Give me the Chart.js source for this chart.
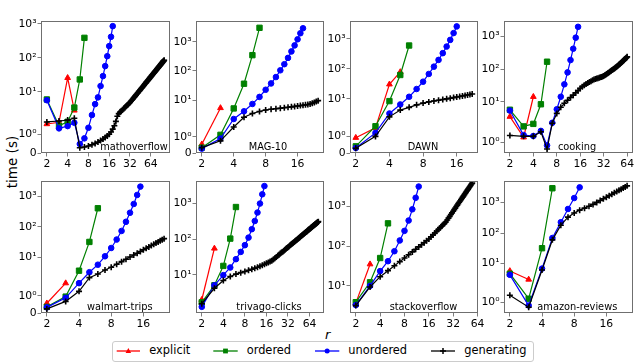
<!DOCTYPE html>
<html><head><meta charset="utf-8">
<script src="https://cdn.jsdelivr.net/npm/chart.js@4/dist/chart.umd.min.js"></script>
<style>
html,body{margin:0;padding:0;background:#fff;}
body{width:640px;height:363px;position:relative;overflow:hidden;font-family:'DejaVu Sans',sans-serif;}
canvas{position:absolute;}
.lbl{position:absolute;color:#000;white-space:nowrap;line-height:1;}
</style></head><body>
<div class="lbl" style="left:12.7px;top:161.5px;font-size:13.5px;transform:translate(-50%,-50%) rotate(-90deg);">time (s)</div>
<div class="lbl" style="left:327.7px;top:334px;font-size:13px;font-style:italic;transform:translate(-50%,-50%);">r</div>
<div style="position:absolute;left:112px;top:341px;width:420px;height:19px;border:1px solid #cccccc;border-radius:3px;background:#fff;"></div>
<svg id="leg" style="position:absolute;left:0;top:0;" width="640" height="363"></svg>
<div id="legText"></div>
<script>
// ---------- categories / ticks ----------
const methodNames = ['explicit', 'ordered', 'unordered', 'generating'];
const datasetNames = ['mathoverflow', 'MAG-10', 'DAWN', 'cooking', 'walmart-trips', 'trivago-clicks', 'stackoverflow', 'amazon-reviews'];
const rStart = 2; // every series is measured at r = 2, 3, 4, ...
const xTicksWide = [2, 4, 8, 16, 32, 64];
const xTicksNarrow = [2, 4, 8, 16];
const yTickValues = [0, 1, 10, 100, 1000];
const yTickLabels = ['0', '10⁰', '10¹', '10²', '10³'];

// ---------- series values (time in seconds) ----------
const mathoverflowExplicit = [1.54, 1.63, 25.7, 2.8];
const mathoverflowOrdered = [5.9, 1.45, 1.66, 3.4, 23, 390];
const mathoverflowUnordered = [5.6, 1.31, 1.43, 1.61, 0.48, 0.78, 1.34, 2.05, 4.3, 6.8, 14.7, 28.9, 57, 112, 222, 418, 863];
const mathoverflowGenerating = [1.65, 1.7, 1.75, 1.85,
  0.28, 0.32, 0.37, 0.44, 0.51, 0.58, 0.66, 0.74, 0.83, 0.91,
  1.0, 1.12, 1.27, 1.45, 1.68, 1.95, 2.25, 2.5, 2.7, 2.95,
  3.2, 3.4, 3.7, 4.0, 4.2, 4.5, 4.8, 5.2, 5.6, 6.0,
  6.5, 6.9, 7.4, 7.9, 8.4, 9.0, 9.5, 10.1, 10.7, 11.3,
  12.0, 12.6, 13.3, 14.0, 14.8, 15.5, 16.3, 17.1, 17.9, 18.8,
  19.7, 20.6, 21.5, 22.4, 23.4, 24.4, 25.4, 26.5, 27.5, 28.6,
  29.8, 30.9, 32.1, 33.3, 34.5, 35.8, 37.0, 38.4, 39.7, 41.1,
  42.5, 43.9, 45.3, 46.8, 48.3, 49.8, 51.4, 53.0, 54.6, 56.3,
  58.0, 59.7, 61.4, 63.2, 65.0, 66.9, 68.7, 70.6, 72.5, 74.5,
  76.5, 78.5, 80.6, 82.7, 85];

const mag10Explicit = [0.54, 5.4];
const mag10Ordered = [0.33, 1.12, 5.2, 36.5, 347, 3000];
const mag10Unordered = [0.27, 0.89, 2.26, 4.14, 7.4, 12.9, 22.7, 37.4, 61.7, 105, 170, 280, 466, 750, 1210, 1950, 2890];
const mag10Generating = [0.33, 0.75, 1.6, 2.6, 3.5, 4.1, 4.6, 4.9, 5.1, 5.3, 5.5, 5.7, 5.9, 6.1, 6.3, 6.5, 6.7, 6.9, 7.1, 7.4, 7.8, 8.3, 8.9, 9.6];

const dawnExplicit = [0.92, 1.51, 30.6, 79];
const dawnOrdered = [0.40, 1.61, 8.4, 62.6, 605];
const dawnUnordered = [0.30, 1.21, 3.24, 6.5, 11.7, 21.3, 37.4, 67.8, 119, 200, 336, 559, 933, 1575, 2630];
const dawnGenerating = [0.28, 1.0, 2.5, 4.2, 5.2, 6.3, 7.2, 7.9, 8.5, 9.0, 9.5, 10.0, 10.5, 11.0, 11.5, 12.0, 12.5, 13.0, 13.5, 14.0, 14.5];

const cookingExplicit = [3.5, 1.3, 14.3];
const cookingOrdered = [5.7, 1.9, 2.1, 8.4, 170];
const cookingUnordered = [5.4, 1.42, 1.37, 1.65, 0.85, 2.27, 5.9, 14.3, 34.4, 80, 191, 426, 930, 2000];
const cookingGenerating = [1.4, 1.35, 1.35, 1.6, 0.65, 2.2, 4.4, 6.8, 9.0, 11.2,
  13.5, 16, 19, 22, 26, 29, 32, 35, 38, 40.5,
  43, 45.5, 48, 50, 51.5, 53, 55, 56.5, 58, 60,
  62, 65, 68, 71.5, 75, 78.5, 82, 86, 90, 94,
  98, 102, 106, 110.5, 115, 120, 125, 130.5, 136, 142,
  148, 154.5, 161, 168, 175, 182, 189.5, 197, 205, 213,
  221.5, 230.5, 240];

const walmartExplicit = [0.57, 1.75];
const walmartOrdered = [0.36, 0.96, 3.7, 32, 400];
const walmartUnordered = [0.33, 0.89, 1.75, 3.3, 5.8, 10.9, 20.3, 38.3, 73, 145, 286, 550, 1087, 2030];
const walmartGenerating = [0.24, 0.68, 1.27, 2.2, 2.9, 3.9, 4.8, 6.0, 7.3, 8.7, 10.3, 12.0, 13.7, 15.6, 17.7, 19.8, 22.0, 24.4, 26.9, 29.5, 32.1, 35.0, 37.9, 40.9];

const trivagoExplicit = [2.0, 55];
const trivagoOrdered = [1.87, 5.1, 17.8, 104, 800];
const trivagoUnordered = [1.64, 5.1, 9.8, 16.1, 27.5, 44, 68, 111, 191, 324, 560, 1000, 1820, 3100];
const trivagoGenerating = [1.8, 4.2, 6.9, 9.0, 10.5, 11.5, 12.4, 13.4, 14.4, 15.4,
  16.4, 17.5, 18.6, 19.8, 21, 22.2, 23.5, 25, 27,
  29.3, 31.7, 34.2, 36.7, 39.4, 42.1, 44.8, 47.7, 50.6, 53.6,
  56.6, 59.7, 62.9, 66.2, 69.5, 72.9, 76.4, 79.9, 83.5, 87.1,
  90.8, 94.6, 98.4, 102, 106, 110, 114, 119, 123, 127,
  131, 136, 140, 145, 149, 154, 158, 163, 168, 173,
  178, 183, 188, 193, 198, 203, 208, 214, 219, 224,
  230, 235, 241, 246, 252, 258, 264, 269, 275, 281,
  287, 293, 299, 305, 311];

const stackoverflowExplicit = [3.7, 35];
const stackoverflowOrdered = [3.9, 12.3, 50, 370];
const stackoverflowUnordered = [3.3, 10, 23.5, 41.6, 74, 138, 240, 436, 832, 1620, 3100];
const stackoverflowGenerating = [3.2, 9.4, 17, 24.1, 31.9, 40.6, 50, 60.3, 71.2, 82.8,
  95.1, 108, 121, 135, 150, 170, 190, 212, 235, 260,
  285, 312, 340, 369, 400, 448, 500, 555, 615, 678,
  746, 818, 894, 976, 1062, 1153, 1249, 1350, 1457, 1569,
  1686, 1809, 1939, 2074, 2215, 2363, 2517, 2677, 2845, 3019,
  3200, 3388, 3584, 3786];

const amazonExplicit = [5.8, 3.05];
const amazonOrdered = [4.7, 1.2, 32, 2900];
const amazonUnordered = [4.33, 0.8, 6.9, 69, 226, 610, 1390, 3100];
const amazonGenerating = [1.4, 0.7, 6.2, 60, 180, 330, 450, 560, 650, 750, 860, 1000, 1150, 1310, 1480, 1660, 1850, 2050, 2260, 2480, 2710, 2950, 3200, 3470];

// ---------- layout & style ----------
const colLeft = [41, 196, 350, 504], colRight = [170, 324, 478, 633];
const rowTop = [21, 181], rowBottom = [153, 313];
const nameCenterX = [134, 268, 423, 577, 119.7, 269, 423.5, 577.3];
const methodStyles = [
  {color: '#ff0000', pointStyle: 'triangle', radius: 3.3, order: 3, bw: 1},
  {color: '#008000', pointStyle: 'rect', radius: 3.8, order: 2, bw: 1},
  {color: '#0000ff', pointStyle: 'circle', radius: 2.8, order: 1, bw: 1},
  {color: '#000000', pointStyle: 'cross', radius: 3.0, order: 0, bw: 1.6}
];
const panels = [
  {series: [mathoverflowExplicit, mathoverflowOrdered, mathoverflowUnordered, mathoverflowGenerating], xMin: 1.645, xMax: 121.6, xTicks: xTicksWide, yMin: 0, yMax: 1225},
  {series: [mag10Explicit, mag10Ordered, mag10Unordered, mag10Generating], xMin: 1.763, xMax: 28.4, xTicks: xTicksNarrow, yMin: 0, yMax: 5130},
  {series: [dawnExplicit, dawnOrdered, dawnUnordered, dawnGenerating], xMin: 1.775, xMax: 24.8, xTicks: xTicksNarrow, yMin: 0, yMax: 3990},
  {series: [cookingExplicit, cookingOrdered, cookingUnordered, cookingGenerating], xMin: 1.68, xMax: 76.1, xTicks: xTicksWide, yMin: 0.43, yMax: 3020},
  {series: [walmartExplicit, walmartOrdered, walmartUnordered, walmartGenerating], xMin: 1.763, xMax: 28.4, xTicks: xTicksNarrow, yMin: 0, yMax: 3090},
  {series: [trivagoExplicit, trivagoOrdered, trivagoUnordered, trivagoGenerating], xMin: 1.66, xMax: 102, xTicks: xTicksWide, yMin: 1.33, yMax: 4300},
  {series: [stackoverflowExplicit, stackoverflowOrdered, stackoverflowUnordered, stackoverflowGenerating], xMin: 1.695, xMax: 64.9, xTicks: xTicksWide, yMin: 2.09, yMax: 4270},
  {series: [amazonExplicit, amazonOrdered, amazonUnordered, amazonGenerating], xMin: 1.763, xMax: 28.4, xTicks: xTicksNarrow, yMin: 0.36, yMax: 5000}
];

// ---------- symlog scale (linthresh 2, linscale 1, base 10) ----------
const LINTHRESH = 2, LINSCALE = 1 / (1 - 1 / 10);
function symT(v) { return v <= LINTHRESH ? v / LINTHRESH * LINSCALE : LINSCALE + Math.log10(v / LINTHRESH); }
function symInv(t) { return t <= LINSCALE ? t / LINSCALE * LINTHRESH : LINTHRESH * Math.pow(10, t - LINSCALE); }
class SymlogScale extends Chart.LinearScale {
  buildTicks() { return []; }
  configure() { super.configure(); this._t0 = symT(this.min); this._t1 = symT(this.max); }
  getPixelForValue(v) { return this.getPixelForDecimal((symT(v) - this._t0) / (this._t1 - this._t0)); }
  getValueForPixel(p) { return symInv(this._t0 + this.getDecimalForPixel(p) * (this._t1 - this._t0)); }
}
SymlogScale.id = 'symlog';
SymlogScale.defaults = {};
Chart.register(SymlogScale);

const PADL = 40, PADT = 10, PADR = 14, PADB = 24;
const tickFont = {family: 'DejaVu Sans', size: 10.8};
const spineColor = '#6f6f6f';

panels.forEach((p, k) => {
  const col = k % 4, row = Math.floor(k / 4);
  const L = colLeft[col], R = colRight[col], T = rowTop[row], B = rowBottom[row];
  const cv = document.createElement('canvas');
  cv.width = (R - L) + PADL + PADR;
  cv.height = (B - T) + PADT + PADB;
  cv.style.left = (L - PADL) + 'px';
  cv.style.top = (T - PADT) + 'px';
  document.body.appendChild(cv);
  const nameX = nameCenterX[k] - (L - PADL);
  const name = datasetNames[k];
  const datasets = p.series.map((vals, m) => {
    const s = methodStyles[m];
    return {
      label: methodNames[m],
      data: vals.map((v, i) => ({x: rStart + i, y: v})),
      borderColor: s.color, backgroundColor: s.color,
      pointBackgroundColor: s.color, pointBorderColor: s.color,
      pointStyle: s.pointStyle, pointRadius: s.radius, pointBorderWidth: s.bw,
      borderWidth: 1.2, tension: 0, order: s.order
    };
  });
  const yTicksShown = yTickValues.filter(v => v >= p.yMin && v <= p.yMax);
  new Chart(cv, {
    type: 'line',
    data: {datasets},
    options: {
      responsive: false, animation: false, devicePixelRatio: 1,
      layout: {padding: {left: 0, top: PADT, right: PADR, bottom: 0}},
      plugins: {legend: {display: false}, tooltip: {enabled: false}},
      scales: {
        x: {
          type: 'logarithmic', min: p.xMin, max: p.xMax, bounds: 'data',
          afterBuildTicks: (s) => { s.ticks = p.xTicks.map(v => ({value: v})); },
          afterFit: (s) => { s.height = PADB; },
          ticks: {autoSkip: false, maxRotation: 0, minRotation: 0, padding: 1, color: '#000', font: tickFont,
                  callback: (v) => String(v)},
          grid: {display: true, drawOnChartArea: false, drawTicks: true, tickLength: 3.5, tickColor: spineColor, tickWidth: 0.9},
          border: {display: false}
        },
        y: {
          type: 'symlog', min: p.yMin, max: p.yMax, bounds: 'data',
          afterBuildTicks: (s) => { s.ticks = yTicksShown.map(v => ({value: v})); },
          afterFit: (s) => { s.width = PADL; },
          ticks: {autoSkip: false, padding: 1, color: '#000', font: tickFont,
                  callback: (v) => yTickLabels[yTickValues.indexOf(v)]},
          grid: {display: true, drawOnChartArea: false, drawTicks: true, tickLength: 3.5, tickColor: spineColor, tickWidth: 0.9},
          border: {display: false}
        }
      }
    },
    plugins: [{
      id: 'frameAndName',
      afterDraw(chart) {
        const c = chart.ctx, a = chart.chartArea;
        c.save();
        c.strokeStyle = spineColor; c.lineWidth = 1;
        c.strokeRect(Math.round(a.left) + 0.5, Math.round(a.top) + 0.5, Math.round(a.right - a.left) - 1, Math.round(a.bottom - a.top) - 1);
        c.fillStyle = '#000'; c.font = '9.8px "DejaVu Sans"';
        c.textAlign = 'center'; c.textBaseline = 'middle';
        c.fillText(name, nameX, a.bottom - 5.5);
        c.restore();
      }
    }]
  });
});

// ---------- legend ----------
const legHandles = [[116.7, 140], [213.3, 237.7], [315, 339.3], [431, 455]];
const legTextX = [149.3, 246.7, 348.3, 464.3];
const svg = document.getElementById('leg');
const ly = 351;
let svgHtml = '';
methodNames.forEach((n, m) => {
  const s = methodStyles[m], h = legHandles[m], cx = (h[0] + h[1]) / 2;
  svgHtml += `<line x1="${h[0]}" y1="${ly}" x2="${h[1]}" y2="${ly}" stroke="${s.color}" stroke-width="1.3"/>`;
  if (s.pointStyle === 'triangle') svgHtml += `<polygon points="${cx},${ly - 3} ${cx - 2.8},${ly + 2} ${cx + 2.8},${ly + 2}" fill="${s.color}"/>`;
  else if (s.pointStyle === 'rect') svgHtml += `<rect x="${cx - 2.4}" y="${ly - 2.4}" width="4.8" height="4.8" fill="${s.color}"/>`;
  else if (s.pointStyle === 'circle') svgHtml += `<circle cx="${cx}" cy="${ly}" r="2.5" fill="${s.color}"/>`;
  else svgHtml += `<path d="M${cx - 3},${ly} H${cx + 3} M${cx},${ly - 3} V${ly + 3}" stroke="${s.color}" stroke-width="1.5"/>`;
  const d = document.createElement('div');
  d.className = 'lbl';
  d.style.cssText = `left:${legTextX[m]}px;top:${ly}px;font-size:11.4px;transform:translateY(-50%);`;
  d.textContent = n;
  document.getElementById('legText').appendChild(d);
});
svg.innerHTML = svgHtml;
</script>
</body></html>
